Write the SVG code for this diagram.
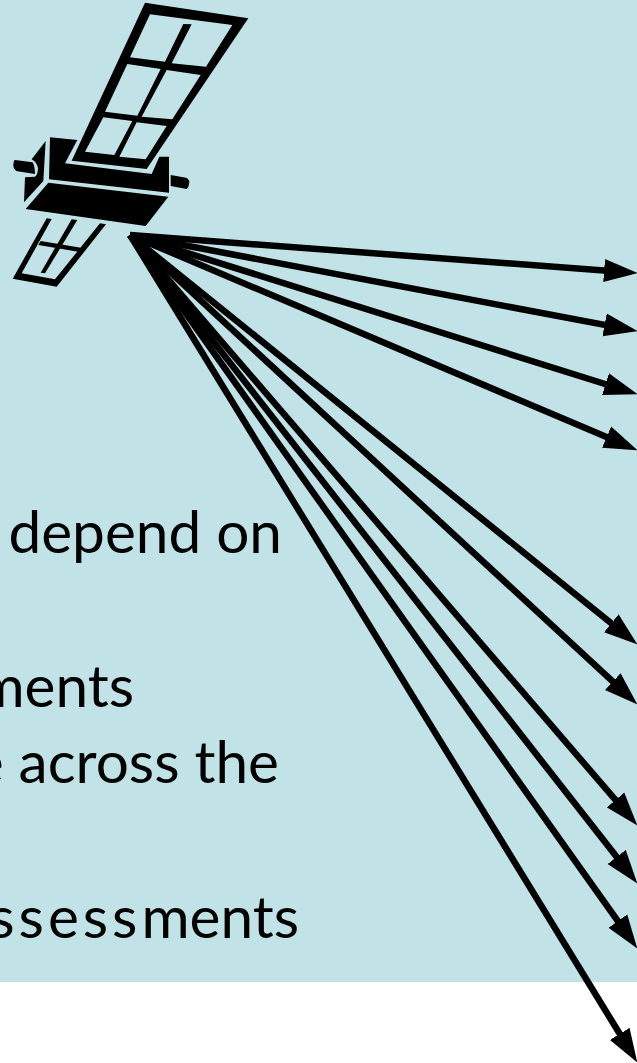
<svg xmlns="http://www.w3.org/2000/svg" width="637" height="1063" viewBox="0 0 637 1063">
<style>
.t{font-family:"Lato","Open Sans","Liberation Sans",sans-serif;font-size:58.5px;fill:#000;text-anchor:end}
.c{stroke:#000;stroke-width:6.5;fill:none;marker-end:url(#a)}
.h{fill:#c1e2e7}
</style>
<defs><marker id="a" markerUnits="userSpaceOnUse" markerWidth="34" markerHeight="24" refX="23" refY="12" orient="auto"><path d="M0 0.5L33.5 12L0 23.5Z" fill="#000"/></marker></defs>
<rect id="background" width="637" height="982" fill="#c1e2e7"/>
<g id="satellite" transform="scale(.33333)">
<path d="M435 8L745 55L440 507L215 482Z"/>
<path class="h" d="M450 43L697 75L618 200L515 190L575 73L550 72L495 185L390 172ZM382 192L482 207L412 347L315 335ZM500 210L602 225L517 358L425 350ZM310 352L397 363L343 465L255 455ZM410 367L500 378L437 478L358 470Z"/>
<path d="M150 412L232 420L195 490L455 522L478 470L507 470L507 578L147 538Z"/>
<path d="M145 548L505 590L437 678L77 627Z"/>
<path d="M137 423L95 478Q112 488 114 506Q112 526 105 530L75 532L72 607L130 543Z"/>
<path d="M45 480L98 487Q105 500 105 522L52 514Q42 510 40 497Q40 482 45 480Z"/>
<path d="M512 525L558 533Q568 537 568 548Q566 562 560 567L512 558Z"/>
<path d="M140 655L155 657L65 820L165 838L300 670L318 673L170 860L38 836ZM215 658L232 660L135 820L122 818ZM122 723L243 743L235 755L115 735Z"/>
</g>
<g id="labels">
<text class="t" x="282" y="553">depend on</text>
<text class="t" x="134" y="707">ments</text>
<text class="t" x="279" y="783">e across the</text>
<text class="t" x="299" y="938"><tspan letter-spacing="4">assess</tspan>ments</text>
</g>
<g id="connectors">
<line class="c" x1="130" y1="235" x2="627.03" y2="272.25"/>
<line class="c" x1="130" y1="235" x2="627.17" y2="329.14"/>
<line class="c" x1="130" y1="235" x2="627.46" y2="391"/>
<line class="c" x1="130" y1="235" x2="627.79" y2="446.1"/>
<line class="c" x1="130" y1="235" x2="629.22" y2="637.72"/>
<line class="c" x1="130" y1="235" x2="629.66" y2="697.21"/>
<line class="c" x1="130" y1="235" x2="630.48" y2="817.42"/>
<line class="c" x1="130" y1="235" x2="630.84" y2="875.12"/>
<line class="c" x1="130" y1="235" x2="631.2" y2="939.85"/>
<line class="c" x1="130" y1="235" x2="631.77" y2="1053.47"/>
</g>
</svg>
